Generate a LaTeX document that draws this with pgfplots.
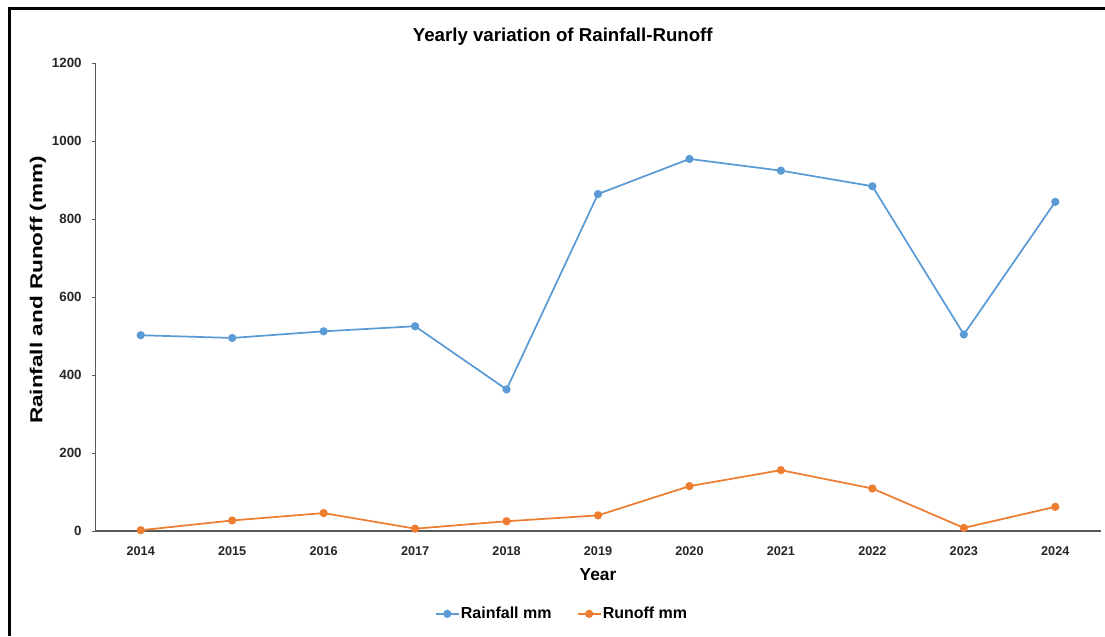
\documentclass[border=0pt]{standalone}
\usepackage{fontspec}
\setmainfont{Liberation Sans}
\usepackage{pgfplots}
\pgfplotsset{compat=1.18}
\definecolor{rainblue}{HTML}{5B9BD5}
\definecolor{runorange}{HTML}{ED7D31}
\definecolor{axgray}{HTML}{595959}
\begin{document}
\begin{tikzpicture}
\useasboundingbox[fill=white] (0,0) rectangle (828.75pt,477pt);
\draw[line width=2.25pt,black] (6.75pt,0) -- (6.75pt,470.25pt) -- (828.75pt,470.25pt);
\begin{axis}[
  at={(71.25pt,78.75pt)}, anchor=south west,
  width=754.5pt, height=351pt, scale only axis,
  xmin=-0.5, xmax=10.5, ymin=0, ymax=1200,
  axis x line*=bottom, axis y line*=left,
  x axis line style={draw=axgray, line width=1.1pt, -},
  y axis line style={draw=axgray, line width=0.6pt, -},
  xtick={0,1,2,3,4,5,6,7,8,9,10},
  xticklabels={2014,2015,2016,2017,2018,2019,2020,2021,2022,2023,2024},
  xtick style={draw=none},
  ytick={0,200,400,600,800,1000,1200},
  ytick style={draw=axgray, line width=0.6pt},
  tick align=outside, major tick length=2.5pt,
  /pgf/number format/assume math mode=true,
  /pgf/number format/1000 sep={},
  ticklabel style={font=\fontsize{9.5}{11}\selectfont\bfseries, text=black!85},
  xticklabel style={yshift=-6pt},
  yticklabel style={xshift=-4pt, font=\fontsize{10}{11}\selectfont\bfseries},
  title={Yearly variation of Rainfall-Runoff},
  title style={at={(axis description cs:0.465,1.040)}, anchor=center, font=\fontsize{14}{16}\selectfont\bfseries},
  xlabel={Year},
  xlabel style={at={(axis description cs:0.5,-0.094)}, anchor=center, font=\fontsize{13}{15}\selectfont\bfseries},
  ylabel={\scalebox{1.3}[1]{Rainfall and Runoff (mm)}},
  ylabel style={at={(axis description cs:-0.0567,0.515)}, anchor=center, rotate=0, font=\fontsize{13}{15}\selectfont\bfseries},
  legend style={at={(axis description cs:0.464,-0.177)}, anchor=center, draw=none, fill=none,
    font=\fontsize{12}{14}\selectfont\bfseries, column sep=0pt,
    nodes={inner xsep=1pt},
    /tikz/every even column/.append style={column sep=18pt}},
  legend columns=2,
  clip=false,
]
\addplot[color=rainblue, line width=1.3pt, mark=*, mark size=2.4pt, mark options={fill=rainblue, draw=rainblue}]
coordinates {(0,502) (1,495) (2,512) (3,525) (4,363) (5,864) (6,954) (7,924) (8,884) (9,504) (10,844)};
\addlegendentry{Rainfall mm}
\addplot[color=runorange, line width=1.3pt, mark=*, mark size=2.4pt, mark options={fill=runorange, draw=runorange}]
coordinates {(0,2) (1,27) (2,46) (3,6) (4,25) (5,40) (6,115) (7,156) (8,109) (9,8) (10,62)};
\addlegendentry{Runoff mm}
\end{axis}
\end{tikzpicture}
\end{document}
